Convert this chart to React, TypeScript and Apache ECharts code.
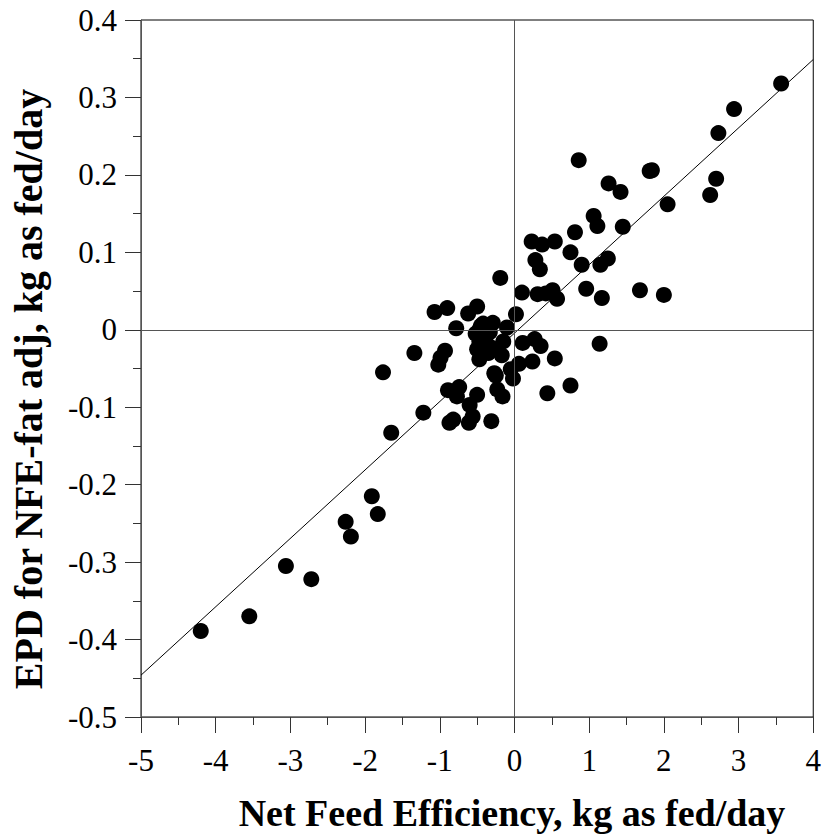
import React, { useEffect, useRef } from "react";
import * as echarts from "echarts";

const xTicks = { min: -5, max: 4, interval: 1 };
const yTicks = { min: -0.5, max: 0.4, interval: 0.1 };

const xTitle = "Net Feed Efficiency, kg as fed/day";
const yTitle = "EPD for NFE-fat adj, kg as fed/day";

// NFE values (x) and EPD values (y)
const nfe: number[] = [
  -4.2, -3.55, -3.06, -2.72, -2.26, -2.19, -1.91, -1.83,
  -1.76, -1.65, -1.22, -1.34,
  -1.07, -0.9, -0.62, -0.5, -0.78,
  -0.19, 0.02, 0.1,
  -0.29, -0.1, -0.47, -0.38, -0.15, -0.47, -0.31, -0.47, -0.17,
  -0.45, -0.52, -0.4, -0.5, -0.35, -0.42, -0.33,
  -0.93, -0.99, -1.02,
  0.11, 0.27, 0.35, 0.54, 0.24, 0.06, -0.05, -0.02, -0.25, -0.27,
  0.75, 0.44, -0.23, -0.16,
  -0.89, -0.74, -0.77, -0.5, -0.6,
  -0.82, -0.87, -0.56, -0.61, -0.31,
  1.14,
  0.86, 1.81, 1.84, 1.26, 1.42, 2.05, 1.06, 1.11, 1.45, 0.81,
  0.23, 0.37, 0.54, 0.75, 0.28, 0.34, 0.9, 1.15, 1.25,
  0.31, 0.42, 0.51, 0.57, 0.96, 1.17, 1.68, 2.0,
  3.57, 2.94, 2.73, 2.7, 2.62,
];
const epd: number[] = [
  -0.389, -0.37, -0.305, -0.322, -0.248, -0.267, -0.215, -0.238,
  -0.055, -0.133, -0.107, -0.03,
  0.023, 0.028, 0.021, 0.03, 0.002,
  0.067, 0.02, 0.048,
  0.009, 0.003, 0.0, -0.008, -0.015, -0.015, -0.023, -0.038, -0.033,
  0.005, -0.005, -0.02, -0.025, -0.03, 0.008, -0.003,
  -0.027, -0.036, -0.045,
  -0.017, -0.012, -0.021, -0.037, -0.041, -0.044, -0.051, -0.063, -0.059, -0.056,
  -0.072, -0.082, -0.077, -0.086,
  -0.078, -0.074, -0.086, -0.084, -0.097,
  -0.116, -0.12, -0.112, -0.12, -0.118,
  -0.018,
  0.219, 0.205, 0.206, 0.189, 0.178, 0.162, 0.147, 0.134, 0.133, 0.126,
  0.114, 0.11, 0.114, 0.1, 0.09, 0.078, 0.084, 0.084, 0.092,
  0.046, 0.047, 0.051, 0.04, 0.053, 0.041, 0.051, 0.045,
  0.318, 0.285, 0.254, 0.195, 0.174,
];

// regression line end points
const fitX: number[] = [-5, 4];
const fitY: number[] = [-0.446, 0.349];

const FONT = "'Liberation Serif', 'Times New Roman', serif";

export default function App() {
  const ref = useRef<HTMLDivElement>(null);
  useEffect(() => {
    if (!ref.current) return;
    const chart = echarts.init(ref.current, undefined, { renderer: "svg" });
    const points = nfe.map((x, i) => [x, epd[i]]);
    const fit = fitX.map((x, i) => [x, fitY[i]]);
    const axisLine = { show: true, onZero: false, lineStyle: { color: "#555", width: 1 } };
    chart.setOption({
      animation: false,
      backgroundColor: "#fff",
      textStyle: { fontFamily: FONT },
      grid: {
        left: 141,
        right: 10,
        top: 20,
        bottom: 121,
        show: true,
        borderColor: "#000",
        borderWidth: 1,
      },
      graphic: [
        {
          type: "text",
          x: 512,
          y: 813,
          style: {
            text: xTitle,
            fontFamily: FONT,
            fontSize: 38,
            fontWeight: "bold",
            fill: "#000",
            align: "center",
            verticalAlign: "middle",
          },
        },
        {
          type: "text",
          x: 28,
          y: 389,
          rotation: Math.PI / 2,
          style: {
            text: yTitle,
            fontFamily: FONT,
            fontSize: 40,
            fontWeight: "bold",
            fill: "#000",
            align: "center",
            verticalAlign: "middle",
          },
        },
      ],
      xAxis: {
        type: "value",
        min: xTicks.min,
        max: xTicks.max,
        interval: xTicks.interval,
        axisLine,
        axisTick: { show: true, inside: false, length: 16, lineStyle: { color: "#333" } },
        minorTick: { show: true, splitNumber: 2, length: 8, lineStyle: { color: "#333" } },
        splitLine: { show: false },
        axisLabel: { fontFamily: FONT, fontSize: 31, color: "#000", margin: 28 },
      },
      yAxis: {
        type: "value",
        min: yTicks.min,
        max: yTicks.max,
        interval: yTicks.interval,
        axisLine,
        axisTick: { show: true, inside: false, length: 16, lineStyle: { color: "#333" } },
        minorTick: { show: true, splitNumber: 2, length: 8, lineStyle: { color: "#333" } },
        splitLine: { show: false },
        axisLabel: {
          fontFamily: FONT,
          fontSize: 31,
          color: "#000",
          margin: 24,
          formatter: (v: number) => (Math.abs(v) < 1e-9 ? "0" : v.toFixed(1)),
        },
      },
      series: [
        {
          type: "line",
          data: fit,
          showSymbol: false,
          symbol: "none",
          lineStyle: { color: "#000", width: 1 },
          silent: true,
          z: 3,
        },
        {
          type: "scatter",
          data: points,
          symbol: "circle",
          symbolSize: 16,
          itemStyle: { color: "#000", opacity: 1 },
          z: 4,
          markLine: {
            silent: true,
            symbol: ["none", "none"],
            label: { show: false },
            lineStyle: { color: "#555", type: "solid", width: 1 },
            data: [{ xAxis: 0 }, { yAxis: 0 }],
          },
        },
      ],
    });
    return () => chart.dispose();
  }, []);
  return <div ref={ref} style={{ width: 824, height: 838, position: "absolute", left: 0, top: 0 }} />;
}
